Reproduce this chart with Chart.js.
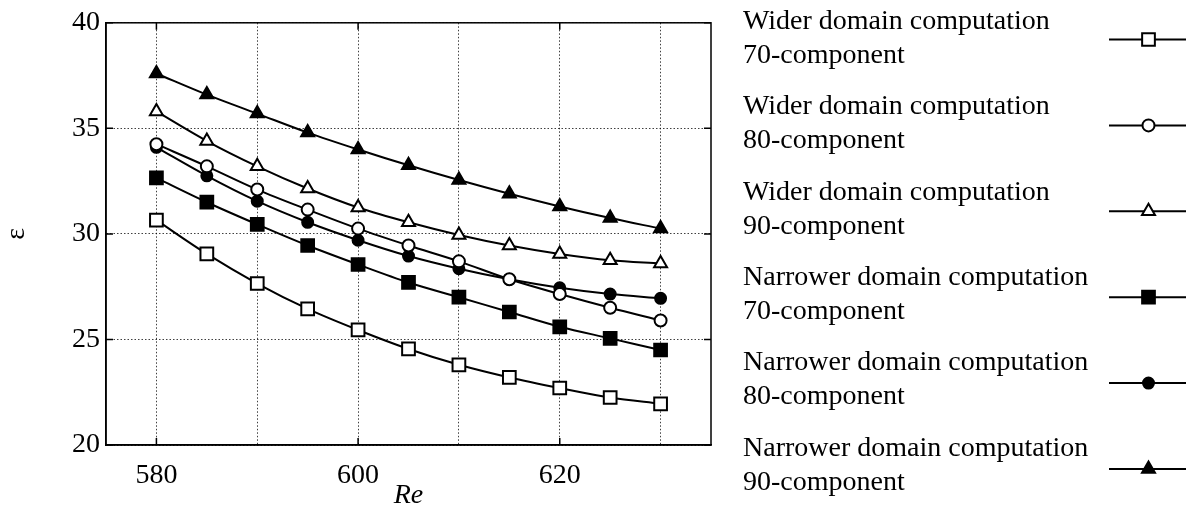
<!DOCTYPE html>
<html>
<head>
<meta charset="utf-8">
<script src="https://cdn.jsdelivr.net/npm/chart.js@4/dist/chart.umd.min.js"></script>
<style>
  html, body { margin: 0; padding: 0; background: #fff; }
  #wrap { width: 1190px; height: 516px; }
</style>
</head>
<body>
<div id="wrap"><canvas id="epsChart" width="1190" height="516"></canvas></div>
<script>
// Liczby Reynoldsa (oś X)
var reValues = [580, 585, 590, 595, 600, 605, 610, 615, 620, 625, 630];

// Wartości epsilon dla poszczególnych obliczeń
var wider70 = [30.65, 29.05, 27.65, 26.45, 25.45, 24.55, 23.8, 23.2, 22.7, 22.25, 21.95];
var wider80 = [34.25, 33.2, 32.1, 31.15, 30.25, 29.45, 28.7, 27.85, 27.15, 26.5, 25.9];
var wider90 = [35.8, 34.4, 33.2, 32.15, 31.25, 30.55, 29.95, 29.45, 29.05, 28.75, 28.6];
var narrow70 = [32.65, 31.5, 30.45, 29.45, 28.55, 27.7, 27.0, 26.3, 25.6, 25.05, 24.5];
var narrow80 = [34.1, 32.75, 31.55, 30.55, 29.7, 28.95, 28.35, 27.85, 27.45, 27.15, 26.95];
var narrow90 = [37.6, 36.6, 35.7, 34.8, 34.0, 33.25, 32.55, 31.9, 31.3, 30.75, 30.25];

// Opisy do legendy (dwie linie)
var domainNames = [
  "Wider domain computation",
  "Wider domain computation",
  "Wider domain computation",
  "Narrower domain computation",
  "Narrower domain computation",
  "Narrower domain computation",
];
var componentNames = ["70-component", "80-component", "90-component", "70-component", "80-component", "90-component"];

// Siatka i etykiety osi
var xGridValues = [580, 590, 600, 610, 620, 630];
var xTickLabels = [580, 600, 620];
var yTickLabels = [20, 25, 30, 35, 40];

var serifFont = '"Liberation Serif", "Times New Roman", serif';

// Zamiana tablicy wartości na punkty {x, y}
function toPoints(values) {
  return values.map(function (v, i) {
    return { x: reValues[i], y: v };
  });
}

// Jeden zestaw danych - czarna linia z markerem
function makeSeries(idx, values, style, filled, radius) {
  return {
    label: domainNames[idx] + " " + componentNames[idx],
    data: toPoints(values),
    borderColor: "#000",
    borderWidth: 2,
    pointStyle: style,
    pointRadius: radius,
    pointHoverRadius: radius,
    pointBorderWidth: 2,
    pointBorderColor: "#000",
    pointBackgroundColor: filled ? "#000" : "#fff",
    cubicInterpolationMode: "monotone",
    fill: false,
  };
}

var datasets = [
  makeSeries(0, wider70, "rect", false, 9),
  makeSeries(1, wider80, "circle", false, 6),
  makeSeries(2, wider90, "triangle", false, 7.5),
  makeSeries(3, narrow70, "rect", true, 9),
  makeSeries(4, narrow80, "circle", true, 5.5),
  makeSeries(5, narrow90, "triangle", true, 7.5),
];

// Ramka wykresu, znaczniki do środka i legenda po prawej
var framePlugin = {
  id: "framePlugin",
  afterDraw: function (chart) {
    var ctx = chart.ctx;
    var area = chart.chartArea;
    var xs = chart.scales.x;
    var ys = chart.scales.y;
    var tick = 7;

    ctx.save();
    ctx.strokeStyle = "#000";
    ctx.lineWidth = 1.5;
    ctx.strokeRect(area.left, area.top, area.right - area.left, area.bottom - area.top);

    ctx.beginPath();
    xTickLabels.forEach(function (v) {
      var px = xs.getPixelForValue(v);
      ctx.moveTo(px, area.bottom);
      ctx.lineTo(px, area.bottom - tick);
      ctx.moveTo(px, area.top);
      ctx.lineTo(px, area.top + tick);
    });
    yTickLabels.forEach(function (v) {
      var py = ys.getPixelForValue(v);
      ctx.moveTo(area.left, py);
      ctx.lineTo(area.left + tick, py);
      ctx.moveTo(area.right, py);
      ctx.lineTo(area.right - tick, py);
    });
    ctx.stroke();

    // Legenda
    ctx.font = "28px " + serifFont;
    ctx.textBaseline = "alphabetic";
    ctx.textAlign = "left";
    chart.data.datasets.forEach(function (ds, i) {
      var ty = 29 + i * 85.3;
      ctx.fillStyle = "#000";
      ctx.fillText(domainNames[i], 743, ty);
      ctx.fillText(componentNames[i], 743, ty + 34);

      var sy = 39.5 + i * 85.9;
      ctx.beginPath();
      ctx.lineWidth = 2;
      ctx.moveTo(1109, sy);
      ctx.lineTo(1186, sy);
      ctx.stroke();

      ctx.fillStyle = ds.pointBackgroundColor;
      ctx.lineWidth = ds.pointBorderWidth;
      Chart.helpers.drawPoint(
        ctx,
        { pointStyle: ds.pointStyle, radius: ds.pointRadius, borderWidth: ds.pointBorderWidth, rotation: 0 },
        1148.5,
        sy
      );
    });
    ctx.restore();
  },
};

var ctx = document.getElementById("epsChart").getContext("2d");
var epsChart = new Chart(ctx, {
  type: "line",
  data: { datasets: datasets },
  options: {
    responsive: false,
    animation: false,
    devicePixelRatio: 1,
    layout: { padding: { top: 19, right: 479, left: 0, bottom: 0 } },
    plugins: {
      legend: { display: false },
      tooltip: { enabled: false },
    },
    scales: {
      x: {
        type: "linear",
        min: 575,
        max: 635,
        afterFit: function (scale) {
          scale.height = 71;
        },
        // linie siatki co 10, opisy co 20
        afterBuildTicks: function (scale) {
          scale.ticks = xGridValues.map(function (v) {
            return { value: v };
          });
        },
        ticks: {
          autoSkip: false,
          maxRotation: 0,
          padding: 14,
          color: "#000",
          font: { family: serifFont, size: 28 },
          callback: function (v) {
            return xTickLabels.indexOf(v) >= 0 ? String(v) : "";
          },
        },
        grid: { color: "rgba(0,0,0,0.75)", lineWidth: 1, drawTicks: false },
        border: { display: true, color: "#000", width: 1.5, dash: [1.5, 2] },
        title: {
          display: true,
          text: "Re",
          color: "#000",
          font: { family: serifFont, size: 28, style: "italic" },
          padding: { top: 0, bottom: 4 },
        },
      },
      y: {
        min: 20,
        max: 40,
        afterFit: function (scale) {
          scale.width = 106;
        },
        ticks: {
          stepSize: 5,
          padding: 6,
          color: "#000",
          font: { family: serifFont, size: 28 },
        },
        grid: { color: "rgba(0,0,0,0.75)", lineWidth: 1, drawTicks: false },
        border: { display: true, color: "#000", width: 1.5, dash: [1.5, 2] },
        title: {
          display: true,
          text: "ε",
          color: "#000",
          font: { family: serifFont, size: 28 },
          padding: 0,
        },
      },
    },
  },
  plugins: [framePlugin],
});
</script>
</body>
</html>
